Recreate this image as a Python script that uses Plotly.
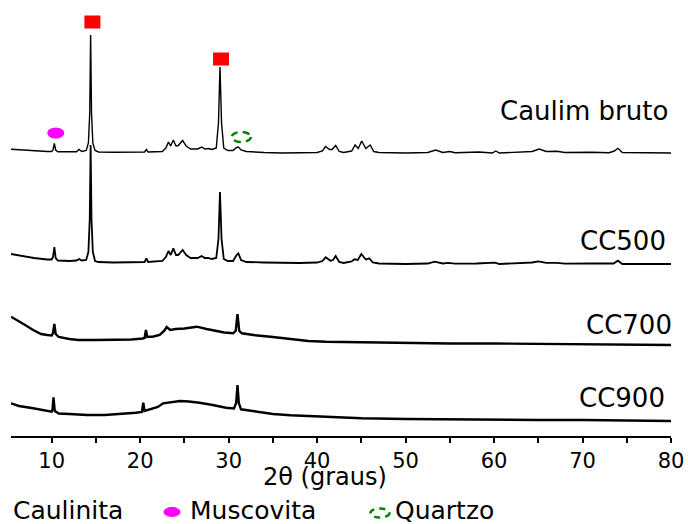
import plotly.graph_objects as go

# ---------------- data ----------------
# 2theta (degrees) and intensity (a.u., relative to each pattern's baseline)
tt_bruto = [5.4, 6.5, 8, 9.5, 10.0, 10.15, 10.3, 10.45, 10.7, 12.0, 12.8, 13.1, 13.4, 13.9,
            14.15, 14.3, 14.4, 14.5, 14.65, 14.9, 15.3, 17, 19, 20.5, 20.7, 20.9, 22.5, 22.9,
            23.2, 23.45, 23.75, 24.05, 24.3, 24.8, 25.2, 25.7, 26.5, 26.95, 27.3, 27.7, 28.1,
            28.6, 28.85, 29.02, 29.2, 29.45, 29.9, 30.5, 30.9, 31.1, 31.4, 32, 34, 36, 38, 40,
            40.6, 40.95, 41.4, 41.7, 42.1, 42.5, 43, 43.9, 44.3, 44.65, 45.04, 45.5, 46.0, 46.4,
            47, 50, 52.5, 53.4, 54.2, 55.0, 55.6, 58.3, 59.8, 60.2, 60.6, 63, 64.3, 65.1, 65.9,
            67.1, 68, 71, 73, 73.6, 74.0, 74.5, 77, 80]
i_bruto = [3.7, 3, 2, 1.5, 1.5, 3, 9.5, 3, 1.3, 1.0, 1.2, 3.5, 1.5, 2.5,
           10, 40, 118, 40, 10, 2.5, 1, 0.8, 0.8, 1, 3.5, 1, 1.5, 5,
           11, 7, 13, 7, 7.5, 12.5, 7, 4, 4, 6, 4, 4.5, 3.5,
           5, 30, 86, 30, 5, 2.5, 2.5, 5.5, 6, 3, 1.5, 0.5, 0, 0.3, 0.5,
           2, 6.5, 3.5, 3.5, 7.5, 1.5, 0.5, 2, 8, 4.5, 12, 4.5, 8, 1.5,
           0.5, 0, 0.5, 3, 0.5, 1.5, 0.3, 1, 0, 2, 0, 0.5, 1.5, 4, 1.5,
           1.7, 0.5, 0.7, 0.3, 2, 4.7, 0.5, 0, 0]

tt_cc500 = [5.4, 6.5, 8, 9.5, 10.0, 10.15, 10.3, 10.45, 10.7, 12.0, 12.8, 13.1, 13.4, 13.9,
            14.15, 14.3, 14.4, 14.5, 14.65, 14.9, 15.3, 17, 19, 20.5, 20.7, 20.9, 22.5, 22.9,
            23.2, 23.45, 23.75, 24.05, 24.3, 24.8, 25.2, 25.7, 26.5, 26.95, 27.3, 27.7, 28.1,
            28.6, 28.85, 29.02, 29.2, 29.45, 29.9, 30.5, 30.9, 31.1, 31.4, 32, 34, 36, 38, 40,
            40.6, 40.97, 41.3, 41.5, 41.8, 42.1, 42.5, 43, 43.9, 44.2, 44.6, 45.0, 45.5, 45.9,
            46.3, 47, 50, 52.5, 53.3, 54.2, 54.8, 55.6, 58, 60.1, 60.6, 63, 64.3, 65.0, 65.9,
            67.1, 68, 71, 73.5, 74.0, 74.5, 77, 80]
i_cc500 = [10, 8, 6, 4.5, 4.5, 7, 17, 6, 3.5, 3, 3.5, 5, 3.5, 4,
           12, 45, 119, 45, 12, 3, 2, 1.5, 2, 2, 5.7, 2, 3, 7,
           13, 9, 15.7, 9, 9, 14, 9, 6, 6, 8, 6, 6, 5,
           6, 25, 72, 25, 5, 3, 3, 9, 10.7, 4, 2, 1.5, 1, 1, 1.5,
           3, 6.7, 4, 3.3, 4, 8, 2, 1, 2.5, 4.7, 4, 10, 4.5, 5.7,
           1.5, 0.5, 0, 0.5, 2.3, 0.5, 1.2, 0.3, 0.5, 1.3, 0, 0.5, 1.5, 2.7, 1.2,
           1.2, 0.3, 0.5, 0.5, 3.3, 0, 0, 0]

tt_cc700 = [5.4, 6.3, 7.0, 7.9, 8.8, 9.5, 10.0, 10.15, 10.3, 10.45, 10.8, 12, 13, 15, 17, 19,
            20.3, 20.5, 20.65, 20.8, 21.5, 22.2, 22.7, 23.0, 23.4, 24, 25, 26.4, 27.5, 28.5,
            29.5, 30.5, 30.8, 31.0, 31.2, 31.5, 33, 35, 37, 39, 41, 43, 45, 50, 55, 60, 65,
            70, 75, 80]
i_cc700 = [28.3, 24, 20, 15, 11, 10, 9.5, 12, 21, 11, 8, 6, 5, 5, 5, 5.5,
           6.5, 7, 15, 8, 8.5, 10, 14, 18, 15, 16, 16.5, 18.3, 16, 14,
           12.5, 11.7, 14, 31, 14, 11.7, 9.7, 8, 5.7, 4, 3.3, 3, 2.5, 2, 1.5, 1.5, 1,
           1, 0.5, 0]

tt_cc900 = [5.4, 6.3, 7.9, 8.8, 9.7, 10.0, 10.1, 10.2, 10.35, 10.8, 12, 14, 16, 18, 19.5,
            20.2, 20.35, 20.5, 21.2, 22.0, 22.6, 23.5, 24.5, 25.5, 26.7, 28.2, 29.7, 30.6,
            30.85, 31.0, 31.15, 31.4, 33.0, 35.0, 37.0, 39, 41, 43, 45, 50, 55, 60, 65, 70,
            75, 80]
i_cc900 = [17.7, 15, 12.7, 11, 9.5, 9.3, 12, 23.7, 10, 7.5, 7, 6, 6, 7, 8.3,
           9, 18.3, 10, 11.7, 14, 17.7, 18.5, 20, 19.5, 18.3, 16, 13.3, 12.5,
           18, 36, 18, 11.7, 9.3, 7, 5.7, 5, 4, 3, 2.7, 2, 1.5, 1.3, 1, 1,
           0.5, 0]

sample_names = ["Caulim bruto", "CC500", "CC700", "CC900"]
stack_offsets = [283, 172, 91, 15]

# phase identification markers (2theta, level on the stacked scale)
caulinita_tt = [14.6, 29.14]
caulinita_level = [414, 377]
muscovita_tt = [10.46]
muscovita_level = [303]
quartzo_tt = [31.43]
quartzo_level = [299]

x_ticks = [10, 20, 30, 40, 50, 60, 70, 80]
x_minor_ticks = [15, 25, 35, 45, 55, 65, 75]

# ---------------- figure ----------------
series = [(tt_bruto, i_bruto), (tt_cc500, i_cc500), (tt_cc700, i_cc700), (tt_cc900, i_cc900)]
widths = [1.4, 1.8, 2.4, 2.4]

fig = go.Figure()
for (tt, ii), name, off, w in zip(series, sample_names, stack_offsets, widths):
    fig.add_trace(go.Scatter(x=tt, y=[v + off for v in ii], mode="lines", name=name,
                             line=dict(color="black", width=w), hoverinfo="skip"))

shapes = []
for x, y in zip(caulinita_tt, caulinita_level):
    shapes.append(dict(type="rect", xref="x", yref="y", xsizemode="pixel", ysizemode="pixel",
                       xanchor=x, yanchor=y, x0=-8, x1=8, y0=-6.5, y1=6.5,
                       fillcolor="#FF0000", line=dict(width=0)))
for x, y in zip(muscovita_tt, muscovita_level):
    shapes.append(dict(type="circle", xref="x", yref="y", xsizemode="pixel", ysizemode="pixel",
                       xanchor=x, yanchor=y, x0=-8.5, x1=8.5, y0=-5.5, y1=5.5,
                       fillcolor="#FF00FF", line=dict(width=0)))
for x, y in zip(quartzo_tt, quartzo_level):
    shapes.append(dict(type="circle", xref="x", yref="y", xsizemode="pixel", ysizemode="pixel",
                       xanchor=x, yanchor=y, x0=-9.5, x1=9.5, y0=-5, y1=5,
                       fillcolor="rgba(0,0,0,0)", line=dict(color="#008000", width=2.5, dash="7px,5px")))

# key below the axis
shapes.append(dict(type="circle", xref="paper", yref="paper", xsizemode="pixel", ysizemode="pixel",
                   xanchor=0.2439, yanchor=-0.1784, x0=-8.5, x1=8.5, y0=-5, y1=5,
                   fillcolor="#FF00FF", line=dict(width=0)))
shapes.append(dict(type="circle", xref="paper", yref="paper", xsizemode="pixel", ysizemode="pixel",
                   xanchor=0.559, yanchor=-0.1808, x0=-9.5, x1=9.5, y0=-4.5, y1=4.5,
                   fillcolor="rgba(0,0,0,0)", line=dict(color="#008000", width=2.5, dash="6px,5px")))

font_main = "DejaVu Sans"
annotations = []
label_pos = [(325, -1), (195, -3), (111, 3), (38, -4)]
for name, (ly, xs) in zip(sample_names, label_pos):
    annotations.append(dict(x=80, y=ly, xref="x", yref="y", text=name, showarrow=False,
                            xanchor="right", yanchor="middle", xshift=xs,
                            font=dict(family=font_main, size=26, color="black")))

annotations.append(dict(x=0.476, y=-0.097, xref="paper", yref="paper", text="2θ (graus)",
                        showarrow=False, xanchor="center", yanchor="middle",
                        font=dict(family=font_main, size=24, color="black")))
for txt, lx in [("Caulinita", 0.0), ("Muscovita", 0.268), ("Quartzo", 0.579)]:
    annotations.append(dict(x=lx, y=-0.175, xref="paper", yref="paper", text=txt,
                            showarrow=False, xanchor="left", yanchor="middle",
                            font=dict(family=font_main, size=25, color="black")))

fig.update_layout(
    width=688, height=524,
    margin=dict(l=11, r=17, t=10, b=88, autoexpand=False),
    paper_bgcolor="white", plot_bgcolor="white",
    showlegend=False,
    shapes=shapes,
    annotations=annotations,
    xaxis=dict(range=[5.4, 80], showline=True, linecolor="black", linewidth=2,
               ticks="outside", ticklen=5, tickwidth=2, tickcolor="black",
               tickvals=x_ticks, ticktext=[str(t) for t in x_ticks],
               tickfont=dict(family=font_main, size=21, color="black"),
               minor=dict(tickvals=x_minor_ticks, ticks="outside", ticklen=5, tickwidth=2,
                          tickcolor="black", showgrid=False),
               showgrid=False, zeroline=False, automargin=False),
    yaxis=dict(range=[0, 426], visible=False, showgrid=False, zeroline=False, automargin=False),
)

fig.write_html("out.html", config={"displayModeBar": False},
               post_script="document.body.style.margin='0';document.body.style.overflow='hidden';")
